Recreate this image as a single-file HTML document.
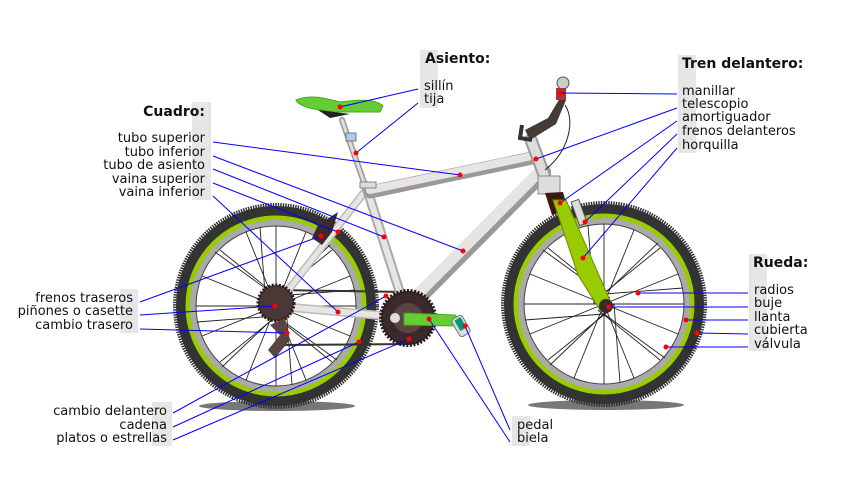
<!DOCTYPE html>
<html><head><meta charset="utf-8"><style>
html,body{margin:0;padding:0;background:#fff}
svg{display:block}
text{font-family:"DejaVu Sans","Liberation Sans",sans-serif;font-size:13px;fill:#111}
.h{font-weight:bold;font-size:14px}
.r{text-anchor:end}
.l{stroke:#00f;stroke-width:1;fill:none}
.d{fill:#f00}
.sp{stroke:#222;stroke-width:0.9}
</style></head><body>
<svg width="850" height="500" viewBox="0 0 850 500" xmlns="http://www.w3.org/2000/svg">
<g fill="#e6e6e6">
<rect x="192" y="102" width="19" height="98"/>
<rect x="420" y="50" width="18" height="58"/>
<rect x="678" y="55" width="18" height="98"/>
<rect x="749" y="254" width="18" height="97"/>
<rect x="120" y="289" width="18" height="44"/>
<rect x="152" y="402" width="20" height="44"/>
<rect x="512" y="416" width="18" height="30"/>
</g>
<ellipse cx="277" cy="406" rx="78" ry="5" fill="#777"/>
<ellipse cx="606" cy="405" rx="78" ry="5" fill="#777"/>
<circle cx="276" cy="306" r="101" fill="none" stroke="#333" stroke-width="4" stroke-dasharray="1.5 1"/>
<circle cx="276" cy="306" r="94" fill="none" stroke="#333" stroke-width="12"/>
<circle cx="276" cy="306" r="88" fill="none" stroke="#9c0" stroke-width="5"/>
<circle cx="276" cy="306" r="83" fill="none" stroke="#aaa" stroke-width="6"/>
<circle cx="276" cy="306" r="80" fill="none" stroke="#444" stroke-width="1"/>
<circle cx="604" cy="304" r="101" fill="none" stroke="#333" stroke-width="4" stroke-dasharray="1.5 1"/>
<circle cx="604" cy="304" r="94" fill="none" stroke="#333" stroke-width="12"/>
<circle cx="604" cy="304" r="88" fill="none" stroke="#9c0" stroke-width="5"/>
<circle cx="604" cy="304" r="83" fill="none" stroke="#aaa" stroke-width="6"/>
<circle cx="604" cy="304" r="80" fill="none" stroke="#444" stroke-width="1"/>
<g class="sp">
<line x1="276" y1="306" x2="356" y2="306"/><line x1="276" y1="306" x2="196" y2="306"/>
<line x1="276" y1="306" x2="276" y2="226"/><line x1="276" y1="306" x2="276" y2="386"/>
<line x1="270" y1="300" x2="332" y2="250"/><line x1="282" y1="312" x2="220" y2="362"/>
<line x1="270" y1="312" x2="332" y2="362"/><line x1="282" y1="300" x2="220" y2="250"/>
<line x1="276" y1="306" x2="306" y2="232"/><line x1="276" y1="306" x2="246" y2="380"/>
<line x1="276" y1="306" x2="350" y2="276"/><line x1="276" y1="306" x2="202" y2="336"/>
<line x1="276" y1="306" x2="350" y2="336"/><line x1="276" y1="306" x2="202" y2="276"/>
<line x1="276" y1="306" x2="306" y2="380"/><line x1="276" y1="306" x2="246" y2="232"/>
<line x1="266" y1="306" x2="330" y2="245"/><line x1="286" y1="306" x2="222" y2="367"/>
<line x1="276" y1="296" x2="215" y2="252"/><line x1="276" y1="316" x2="337" y2="360"/>
<line x1="266" y1="306" x2="260" y2="227"/><line x1="286" y1="306" x2="292" y2="385"/>
<line x1="276" y1="296" x2="355" y2="290"/><line x1="276" y1="316" x2="197" y2="322"/>
</g>
<g class="sp">
<line x1="604" y1="304" x2="684" y2="304"/><line x1="604" y1="304" x2="524" y2="304"/>
<line x1="604" y1="304" x2="604" y2="224"/><line x1="604" y1="304" x2="604" y2="384"/>
<line x1="598" y1="298" x2="660" y2="248"/><line x1="610" y1="310" x2="548" y2="360"/>
<line x1="598" y1="310" x2="660" y2="360"/><line x1="610" y1="298" x2="548" y2="248"/>
<line x1="604" y1="304" x2="634" y2="230"/><line x1="604" y1="304" x2="574" y2="378"/>
<line x1="604" y1="304" x2="678" y2="274"/><line x1="604" y1="304" x2="530" y2="334"/>
<line x1="604" y1="304" x2="678" y2="334"/><line x1="604" y1="304" x2="530" y2="274"/>
<line x1="604" y1="304" x2="634" y2="378"/><line x1="604" y1="304" x2="574" y2="230"/>
<line x1="594" y1="304" x2="658" y2="243"/><line x1="614" y1="304" x2="550" y2="365"/>
<line x1="604" y1="294" x2="543" y2="250"/><line x1="604" y1="314" x2="665" y2="358"/>
<line x1="594" y1="304" x2="588" y2="225"/><line x1="614" y1="304" x2="620" y2="383"/>
<line x1="604" y1="294" x2="683" y2="288"/><line x1="604" y1="314" x2="525" y2="320"/>
</g>
<line x1="276" y1="290" x2="408" y2="292" stroke="#333" stroke-width="2"/>
<line x1="285" y1="345" x2="408" y2="344" stroke="#333" stroke-width="2"/>
<g stroke-linecap="round">
<line x1="276" y1="306" x2="408" y2="318" stroke="#bbb" stroke-width="9"/>
<line x1="276" y1="306" x2="408" y2="318" stroke="#e8e4e2" stroke-width="6"/>
<line x1="276" y1="306" x2="366" y2="190" stroke="#bbb" stroke-width="8"/>
<line x1="276" y1="306" x2="366" y2="190" stroke="#e8e4e2" stroke-width="5"/>
<line x1="342" y1="120" x2="366" y2="188" stroke="#999" stroke-width="6"/>
<line x1="342" y1="120" x2="366" y2="188" stroke="#ddd" stroke-width="3"/>
<line x1="366" y1="186" x2="408" y2="318" stroke="#aaa" stroke-width="10"/>
<line x1="366" y1="186" x2="408" y2="318" stroke="#e8e4e2" stroke-width="6"/>
<line x1="370" y1="192" x2="537" y2="157" stroke="#999" stroke-width="13"/>
<line x1="370" y1="190" x2="537" y2="155" stroke="#e8e4e2" stroke-width="8"/>
<line x1="404" y1="312" x2="543" y2="172" stroke="#999" stroke-width="16"/>
<line x1="402" y1="310" x2="541" y2="170" stroke="#e8e4e2" stroke-width="11"/>
<line x1="531" y1="140" x2="549" y2="188" stroke="#999" stroke-width="13"/>
<line x1="531" y1="140" x2="549" y2="188" stroke="#ddd" stroke-width="9"/>
</g>
<rect x="360" y="182" width="16" height="6" fill="#ddd" stroke="#888"/>
<rect x="346" y="133" width="10" height="8" fill="#ace" stroke="#777"/>
<path d="M525 130 L548 118 L560 98 L566 100 L556 124 L530 140 Z" fill="#443a36"/>
<circle cx="563" cy="83" r="6" fill="#ccc" stroke="#555"/>
<rect x="556" y="88" width="10" height="12" fill="#a33"/>
<path d="M522 125 L520 138 L532 140" fill="none" stroke="#333" stroke-width="4"/>
<path d="M565 105 C575 120 570 150 545 170" fill="none" stroke="#222" stroke-width="1"/>
<rect x="538" y="176" width="22" height="18" fill="#ddd" stroke="#888"/>
<path d="M545 193 L563 192 L568 210 L552 215 Z" fill="#3a1a10"/>
<path d="M553 200 L566 200 L612 305 L600 310 L578 275 Z" fill="#9c0" stroke="#6a8a00" stroke-width="1"/>
<rect x="575" y="200" width="8" height="25" fill="#ddd" stroke="#555" transform="rotate(-20 579 212)"/>
<circle cx="606" cy="306" r="7" fill="#3a2a2a"/>
<circle cx="276" cy="303" r="18" fill="#4a3836" stroke="#2a1a1a" stroke-width="3" stroke-dasharray="2 1.5"/>
<path d="M285 318 L290 340 L275 358 L268 350 L280 335 L270 325 Z" fill="#5a4442"/>
<path d="M318 225 L338 212 L332 232 L322 245 L312 238 Z" fill="#3a2a2a"/>
<circle cx="408" cy="318" r="27" fill="#3a2a2a" stroke="#2a1a1a" stroke-width="4" stroke-dasharray="2 1.5"/>
<circle cx="408" cy="318" r="15" fill="#5a4442"/>
<circle cx="395" cy="318" r="5" fill="#ddd"/>
<path d="M404 313 L455 315 L462 322 L455 326 L404 325 Z" fill="#6c3" stroke="#4a2" />
<rect x="455" y="316" width="12" height="20" rx="3" fill="#ddd" stroke="#777" transform="rotate(-30 461 326)"/>
<rect x="458" y="318" width="7" height="12" fill="#097" transform="rotate(-30 461 326)"/>
<path d="M296 100 C310 94 325 98 340 102 C355 100 375 98 383 106 L380 112 L335 112 C318 110 300 108 296 100 Z" fill="#6c3" stroke="#4a2"/>
<path d="M318 110 L330 118 L350 114" fill="#222"/>
<g class="l">
<line x1="418" y1="89" x2="340" y2="107"/>
<line x1="418" y1="103" x2="356" y2="153"/>
<line x1="213" y1="142" x2="460" y2="175"/>
<line x1="213" y1="156" x2="463" y2="251"/>
<line x1="213" y1="169" x2="384" y2="237"/>
<line x1="213" y1="183" x2="338" y2="232"/>
<line x1="213" y1="196" x2="338" y2="312"/>
<line x1="140" y1="302" x2="321" y2="236"/>
<line x1="140" y1="315" x2="275" y2="306"/>
<line x1="140" y1="329" x2="287" y2="333"/>
<line x1="173" y1="413" x2="386" y2="296"/>
<line x1="173" y1="427" x2="359" y2="342"/>
<line x1="173" y1="440" x2="409" y2="339"/>
<line x1="510" y1="430" x2="465" y2="326"/>
<line x1="510" y1="442" x2="429" y2="319"/>
<line x1="677" y1="94" x2="560" y2="93"/>
<line x1="677" y1="108" x2="536" y2="159"/>
<line x1="677" y1="121" x2="560" y2="203"/>
<line x1="677" y1="134" x2="585" y2="222"/>
<line x1="677" y1="148" x2="583" y2="258"/>
<line x1="748" y1="293" x2="638" y2="293"/>
<line x1="748" y1="307" x2="609" y2="307"/>
<line x1="748" y1="320" x2="686" y2="320"/>
<line x1="748" y1="334" x2="697" y2="333"/>
<line x1="748" y1="347" x2="666" y2="347"/>
</g>
<g class="d">
<circle cx="340" cy="107" r="2.5"/><circle cx="356" cy="153" r="2.5"/>
<circle cx="460" cy="175" r="2.5"/><circle cx="463" cy="251" r="2.5"/>
<circle cx="384" cy="237" r="2.5"/><circle cx="338" cy="232" r="2.5"/>
<circle cx="338" cy="312" r="2.5"/><circle cx="321" cy="236" r="2.5"/>
<circle cx="275" cy="306" r="2.5"/><circle cx="287" cy="333" r="2.5"/>
<circle cx="386" cy="296" r="2.5"/><circle cx="359" cy="342" r="2.5"/>
<circle cx="409" cy="339" r="2.5"/><circle cx="465" cy="326" r="2.5"/>
<circle cx="429" cy="319" r="2.5"/><circle cx="560" cy="93" r="2.5"/>
<circle cx="536" cy="159" r="2.5"/><circle cx="560" cy="203" r="2.5"/>
<circle cx="585" cy="222" r="2.5"/><circle cx="583" cy="258" r="2.5"/>
<circle cx="638" cy="293" r="2.5"/><circle cx="609" cy="307" r="2.5"/>
<circle cx="686" cy="320" r="2.5"/><circle cx="697" cy="333" r="2.5"/>
<circle cx="666" cy="347" r="2.5"/>
</g>
<text class="h r" x="205" y="116">Cuadro:</text>
<text class="r" x="205" y="142">tubo superior</text>
<text class="r" x="205" y="156">tubo inferior</text>
<text class="r" x="205" y="169">tubo de asiento</text>
<text class="r" x="205" y="183">vaina superior</text>
<text class="r" x="205" y="196">vaina inferior</text>
<text class="h" x="425" y="63">Asiento:</text>
<text x="424" y="90">sillín</text>
<text x="424" y="103">tija</text>
<text class="h" x="682" y="68">Tren delantero:</text>
<text x="682" y="95">manillar</text>
<text x="682" y="108">telescopio</text>
<text x="682" y="121">amortiguador</text>
<text x="682" y="135">frenos delanteros</text>
<text x="682" y="149">horquilla</text>
<text class="h" x="753" y="267">Rueda:</text>
<text x="754" y="294">radios</text>
<text x="754" y="307">buje</text>
<text x="754" y="321">llanta</text>
<text x="754" y="334">cubierta</text>
<text x="754" y="348">válvula</text>
<text class="r" x="133" y="302">frenos traseros</text>
<text class="r" x="133" y="315">piñones o casette</text>
<text class="r" x="133" y="329">cambio trasero</text>
<text class="r" x="167" y="415">cambio delantero</text>
<text class="r" x="167" y="429">cadena</text>
<text class="r" x="167" y="442">platos o estrellas</text>
<text x="517" y="429">pedal</text>
<text x="517" y="442">biela</text>
</svg>
</body></html>
